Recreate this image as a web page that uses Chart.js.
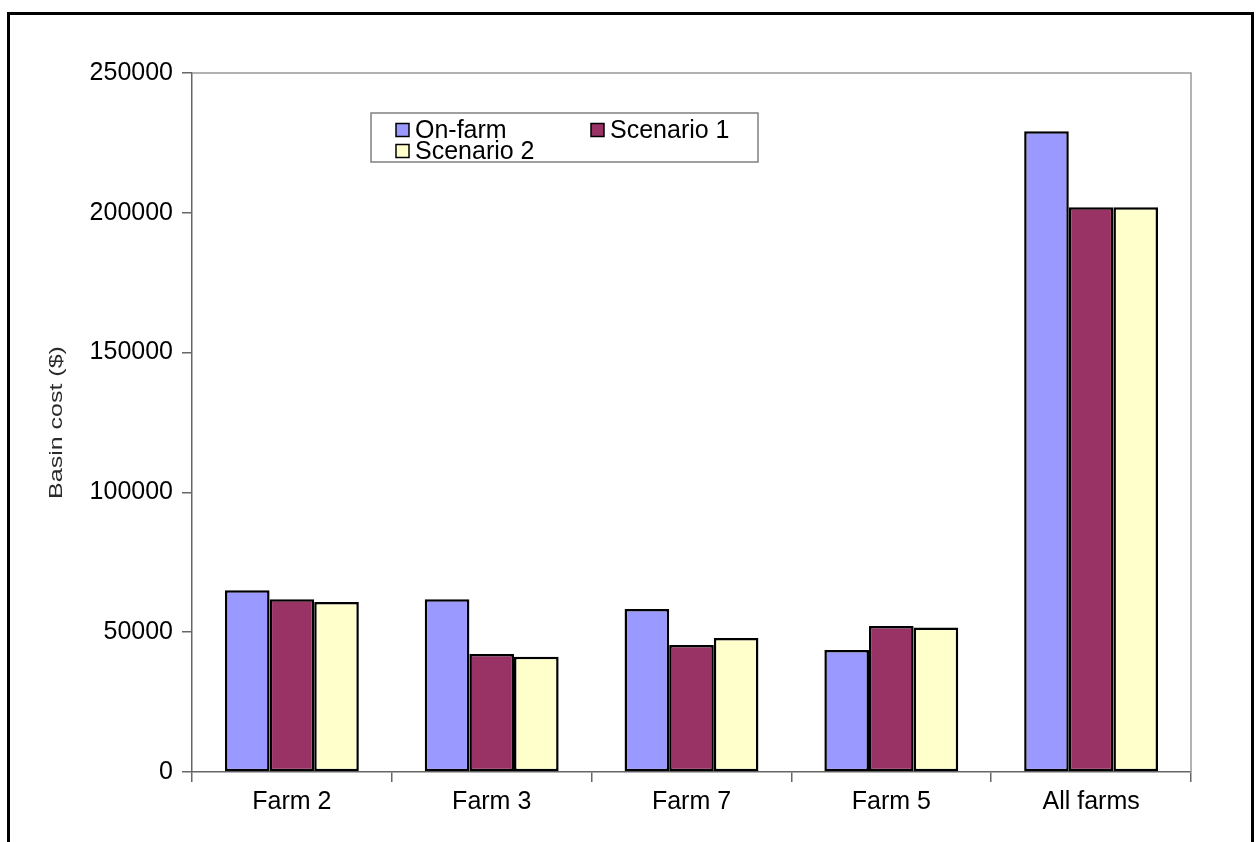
<!DOCTYPE html>
<html>
<head>
<meta charset="utf-8">
<script src="https://cdn.jsdelivr.net/npm/chart.js@4/dist/chart.umd.min.js"></script>
<style>
  html, body { margin: 0; padding: 0; background: #ffffff; }
  #wrap { width: 1256px; height: 842px; position: relative; }
</style>
</head>
<body>
<div id="wrap"><canvas id="chart" width="1256" height="842"></canvas></div>
<script>
// Basin cost per farm under each management option
const categories = ['Farm 2', 'Farm 3', 'Farm 7', 'Farm 5', 'All farms'];
const seriesNames = ['On-farm', 'Scenario 1', 'Scenario 2'];
const onFarm    = [65000, 61800, 58300, 43600, 229200];
const scenario1 = [61800, 42200, 45400, 52200, 202000];
const scenario2 = [60800, 41200, 47900, 51700, 202000];
const yTicks = [0, 50000, 100000, 150000, 200000, 250000];
const yTitle = 'Basin cost ($)';

const FONT = '"Liberation Sans", Arial, sans-serif';
const colors = ['#9999FF', '#993366', '#FFFFCC'];

// Outer frame, plot-area outline, axis title and the boxed legend
const decorations = {
  id: 'decorations',
  beforeDraw(chart) {
    const ctx = chart.ctx;
    ctx.save();
    ctx.fillStyle = '#ffffff';
    ctx.fillRect(0, 0, chart.width, chart.height);
    ctx.strokeStyle = '#000000';
    ctx.lineWidth = 3;
    ctx.beginPath();
    ctx.moveTo(8.5, chart.height);
    ctx.lineTo(8.5, 13.5);
    ctx.lineTo(1252.5, 13.5);
    ctx.lineTo(1252.5, chart.height);
    ctx.stroke();
    ctx.restore();
  },
  afterDatasetsDraw(chart) {
    const ctx = chart.ctx;
    const a = chart.chartArea;
    ctx.save();
    ctx.strokeStyle = '#999999';
    ctx.lineWidth = 1.5;
    ctx.beginPath();
    ctx.moveTo(a.left, a.top);
    ctx.lineTo(a.right, a.top);
    ctx.lineTo(a.right, a.bottom);
    ctx.stroke();

    // vertical axis title, in a narrow face
    ctx.save();
    ctx.translate(57, (a.top + a.bottom) / 2);
    ctx.rotate(-Math.PI / 2);
    ctx.scale(1, 0.72);
    ctx.font = '25px ' + FONT;
    ctx.fillStyle = '#2a2a2a';
    ctx.textAlign = 'center';
    ctx.textBaseline = 'middle';
    ctx.fillText(yTitle, 0, 0);
    ctx.restore();

    // legend box
    const box = { x: 371, y: 113, w: 387, h: 49 };
    ctx.fillStyle = '#ffffff';
    ctx.fillRect(box.x, box.y, box.w, box.h);
    ctx.strokeStyle = '#808080';
    ctx.lineWidth = 1.5;
    ctx.strokeRect(box.x, box.y, box.w, box.h);

    const slots = [
      { sx: 396, ty: 130 },
      { sx: 591, ty: 130 },
      { sx: 396, ty: 151 }
    ];
    ctx.font = '25px ' + FONT;
    ctx.textBaseline = 'middle';
    ctx.textAlign = 'left';
    chart.data.datasets.forEach((ds, i) => {
      const s = slots[i];
      ctx.fillStyle = ds.backgroundColor;
      ctx.fillRect(s.sx, s.ty - 6.5, 13, 13);
      ctx.strokeStyle = '#000000';
      ctx.lineWidth = 1.5;
      ctx.strokeRect(s.sx, s.ty - 6.5, 13, 13);
      ctx.fillStyle = '#000000';
      ctx.fillText(ds.label, s.sx + 19, s.ty + 1);
    });
    ctx.restore();
  }
};

new Chart(document.getElementById('chart'), {
  type: 'bar',
  data: {
    labels: categories,
    datasets: [onFarm, scenario1, scenario2].map((vals, i) => ({
      label: seriesNames[i],
      data: vals,
      backgroundColor: colors[i],
      borderColor: '#000000',
      borderWidth: 2.5,
      borderSkipped: false,
      categoryPercentage: 0.67,
      barPercentage: 1.0
    }))
  },
  options: {
    responsive: false,
    animation: false,
    events: [],
    layout: { padding: { left: 0, top: 73, right: 65, bottom: 0 } },
    plugins: {
      legend: { display: false },
      tooltip: { enabled: false }
    },
    scales: {
      x: {
        grid: {
          offset: true,
          drawOnChartArea: false,
          drawTicks: true,
          tickLength: 10,
          color: '#666666',
          lineWidth: 1.5
        },
        border: { display: true, color: '#666666', width: 1.5 },
        ticks: {
          color: '#000000',
          font: { family: FONT, size: 25 },
          padding: 5,
          maxRotation: 0
        },
        afterFit(scale) { scale.height = 70; }
      },
      y: {
        min: 0,
        max: 250000,
        afterBuildTicks(scale) { scale.ticks = yTicks.map(v => ({ value: v })); },
        grid: {
          drawOnChartArea: false,
          drawTicks: true,
          tickLength: 10,
          color: '#666666',
          lineWidth: 1.5
        },
        border: { display: true, color: '#666666', width: 1.5 },
        ticks: {
          color: '#000000',
          font: { family: FONT, size: 25 },
          padding: 9,
          callback: v => String(v)
        },
        title: { display: false },
        afterFit(scale) { scale.width = 192; }
      }
    }
  },
  plugins: [decorations]
});
</script>
</body>
</html>
